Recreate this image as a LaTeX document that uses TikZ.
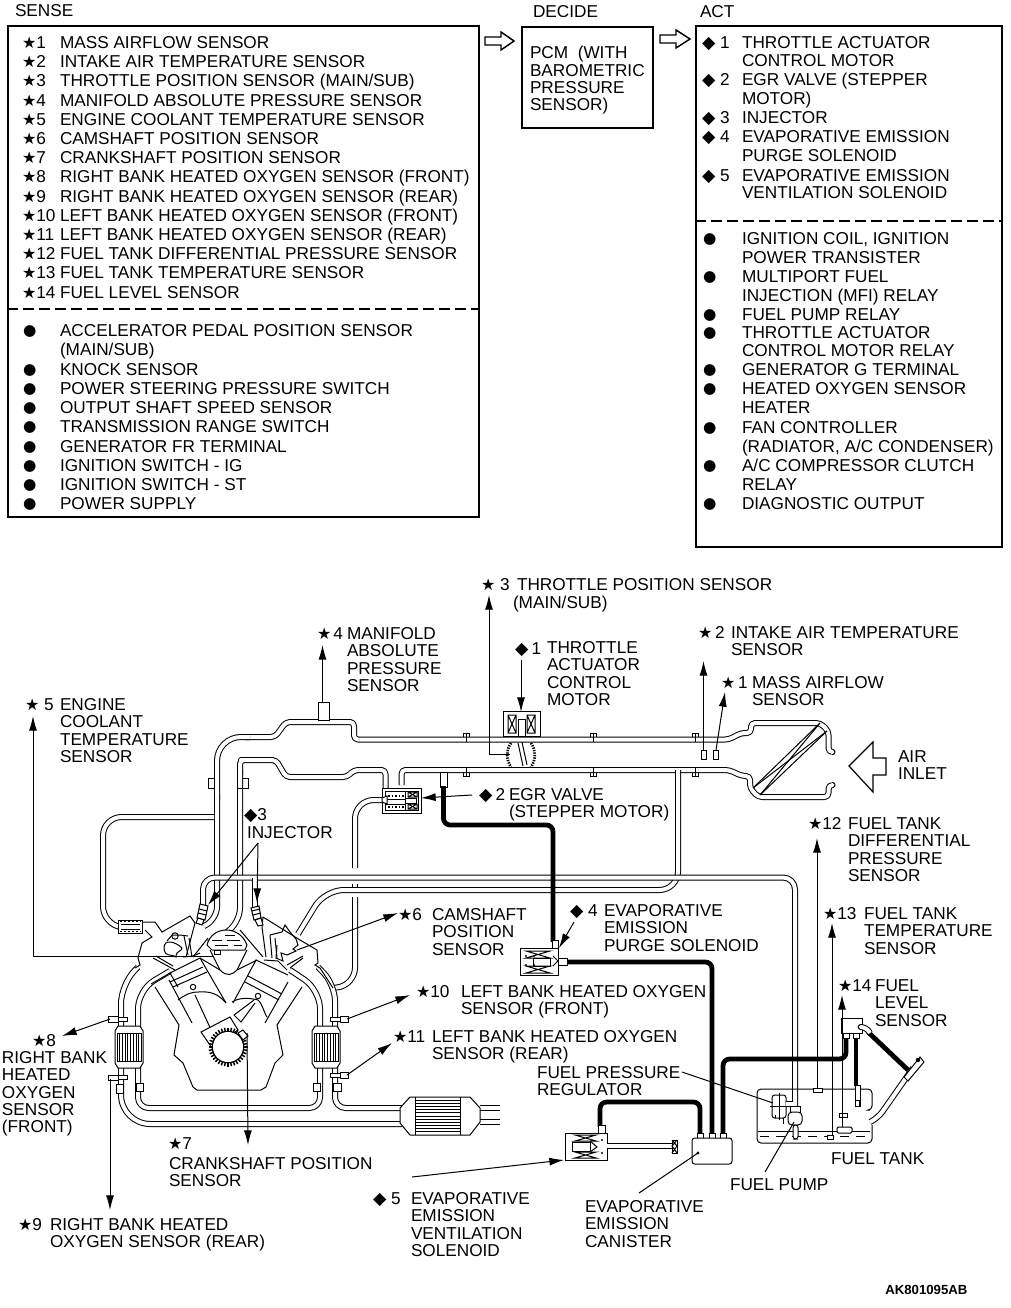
\documentclass[tikz,border=0pt]{standalone}
\usepackage{fontspec}
\setmainfont{Liberation Sans}
\newfontfamily\symf{DejaVu Sans}
\usetikzlibrary{arrows.meta}
\newcommand\St{{\symf\fontsize{12}{12}\selectfont ★}}
\newcommand\Di{{\symf\fontsize{13}{12}\selectfont ◆}}
\newcommand\Bu{\raisebox{.8pt}{\symf\fontsize{11.5}{12}\selectfont ●}}
\newcommand\Tx[4]{\node[lab,anchor=base west] (#1) at (#2,#3+6.2) {#4};}
\newcommand\Ml[4]{\node[lab,anchor=north west,align=left] (#1) at (#2,#3-5.5) {#4};}
\tikzset{
  lab/.style={inner sep=0pt,outer sep=0pt,font=\fontsize{12.9}{13}\selectfont,text=black},
  panel/.style={draw=black,line width=1.1pt},
  pipe/.style={draw=black,line width=.75pt,double=white,double distance=3pt,line join=round},
  hose/.style={draw=black,line width=3.6pt,line cap=butt,rounded corners=5pt},
  thin/.style={draw=black,line width=.75pt},
  part/.style={draw=black,line width=.75pt,fill=white},
  hatchl/.style={draw=black,line width=.5pt},
  lead/.style={draw=black,line width=.75pt},
  arr/.style={draw=black,line width=.75pt,-{Latex[length=11pt,width=6pt]}},
}
\begin{document}
\begin{tikzpicture}[x=.75pt,y=-.75pt]
\useasboundingbox (0,0) rectangle (1010,1308);
\fill[white] (0,0) rectangle (1010,1308);

% ---------- top panels
\Tx{hsense}{15}{10}{SENSE}
\Tx{hdecide}{533}{11}{DECIDE}
\Tx{hact}{700}{11}{ACT}
\node[panel,minimum width=0pt,inner sep=0pt] (bsense) at (243.5,271.5) {\tikz\path (0,0) rectangle (353.25pt,368.25pt);};
\draw[line width=.9pt,dash pattern=on 8pt off 4pt] (bsense.west |- 0,309) -- (bsense.east |- 0,309);
\node[panel,inner sep=0pt] (bdec) at (587.5,77.5) {\tikz\path (0,0) rectangle (98.25pt,75.75pt);};
\node[panel,inner sep=0pt] (bact) at (849,286.5) {\tikz\path (0,0) rectangle (229.5pt,390.75pt);};
\draw[line width=.9pt,dash pattern=on 8pt off 4pt] (bact.west |- 0,221) -- (bact.east |- 0,221);
\draw[line width=1.1pt,line join=miter] (485,37)--(501,37)--(501,32)--(514,41)--(501,50)--(501,45)--(485,45)--cycle;
\draw[line width=1.1pt,line join=miter] (660,35)--(676,35)--(676,30)--(690,39)--(676,48)--(676,43)--(660,43)--cycle;

\Tx{s1}{22}{42}{\St 1}\Tx{t1}{60}{42}{MASS AIRFLOW SENSOR}
\Tx{s2}{22}{61}{\St 2}\Tx{t2}{60}{61}{INTAKE AIR TEMPERATURE SENSOR}
\Tx{s3}{22}{80.5}{\St 3}\Tx{t3}{60}{80.5}{THROTTLE POSITION SENSOR (MAIN/SUB)}
\Tx{s4}{22}{100}{\St 4}\Tx{t4}{60}{100}{MANIFOLD ABSOLUTE PRESSURE SENSOR}
\Tx{s5}{22}{119}{\St 5}\Tx{t5}{60}{119}{ENGINE COOLANT TEMPERATURE SENSOR}
\Tx{s6}{22}{138.5}{\St 6}\Tx{t6}{60}{138.5}{CAMSHAFT POSITION SENSOR}
\Tx{s7}{22}{157.5}{\St 7}\Tx{t7}{60}{157.5}{CRANKSHAFT POSITION SENSOR}
\Tx{s8}{22}{176.5}{\St 8}\Tx{t8}{60}{176.5}{RIGHT BANK HEATED OXYGEN SENSOR (FRONT)}
\Tx{s9}{22}{196}{\St 9}\Tx{t9}{60}{196}{RIGHT BANK HEATED OXYGEN SENSOR (REAR)}
\Tx{s10}{22}{215}{\St 10}\Tx{t10}{60}{215}{LEFT BANK HEATED OXYGEN SENSOR (FRONT)}
\Tx{s11}{22}{234}{\St 11}\Tx{t11}{60}{234}{LEFT BANK HEATED OXYGEN SENSOR (REAR)}
\Tx{s12}{22}{253.5}{\St 12}\Tx{t12}{60}{253.5}{FUEL TANK DIFFERENTIAL PRESSURE SENSOR}
\Tx{s13}{22}{272.5}{\St 13}\Tx{t13}{60}{272.5}{FUEL TANK TEMPERATURE SENSOR}
\Tx{s14}{22}{292}{\St 14}\Tx{t14}{60}{292}{FUEL LEVEL SENSOR}
\Tx{b1}{23}{330}{\Bu}\Tx{u1}{60}{330}{ACCELERATOR PEDAL POSITION SENSOR}
\Tx{u1b}{60}{349}{(MAIN/SUB)}
\Tx{b2}{23}{369}{\Bu}\Tx{u2}{60}{369}{KNOCK SENSOR}
\Tx{b3}{23}{388}{\Bu}\Tx{u3}{60}{388}{POWER STEERING PRESSURE SWITCH}
\Tx{b4}{23}{407}{\Bu}\Tx{u4}{60}{407}{OUTPUT SHAFT SPEED SENSOR}
\Tx{b5}{23}{426}{\Bu}\Tx{u5}{60}{426}{TRANSMISSION RANGE SWITCH}
\Tx{b6}{23}{446}{\Bu}\Tx{u6}{60}{446}{GENERATOR FR TERMINAL}
\Tx{b7}{23}{465}{\Bu}\Tx{u7}{60}{465}{IGNITION SWITCH - IG}
\Tx{b8}{23}{484}{\Bu}\Tx{u8}{60}{484}{IGNITION SWITCH - ST}
\Tx{b9}{23}{503}{\Bu}\Tx{u9}{60}{503}{POWER SUPPLY}

\Ml{pcm}{530}{52}{PCM\ \ (WITH\\BAROMETRIC\\PRESSURE\\SENSOR)}

\Tx{d1}{702}{42}{\Di\ 1}\Tx{v1}{742}{42}{THROTTLE ACTUATOR}
\Tx{v1b}{742}{60}{CONTROL MOTOR}
\Tx{d2}{702}{79}{\Di\ 2}\Tx{v2}{742}{79}{EGR VALVE (STEPPER}
\Tx{v2b}{742}{98}{MOTOR)}
\Tx{d3}{702}{117}{\Di\ 3}\Tx{v3}{742}{117}{INJECTOR}
\Tx{d4}{702}{136}{\Di\ 4}\Tx{v4}{742}{136}{EVAPORATIVE EMISSION}
\Tx{v4b}{742}{155}{PURGE SOLENOID}
\Tx{d5}{702}{175}{\Di\ 5}\Tx{v5}{742}{175}{EVAPORATIVE EMISSION}
\Tx{v5b}{742}{192}{VENTILATION SOLENOID}
\Tx{e1}{703}{238}{\Bu}\Tx{w1}{742}{238}{IGNITION COIL, IGNITION}
\Tx{w1b}{742}{257}{POWER TRANSISTER}
\Tx{e2}{703}{276}{\Bu}\Tx{w2}{742}{276}{MULTIPORT FUEL}
\Tx{w2b}{742}{295}{INJECTION (MFI) RELAY}
\Tx{e3}{703}{314}{\Bu}\Tx{w3}{742}{314}{FUEL PUMP RELAY}
\Tx{e4}{703}{332}{\Bu}\Tx{w4}{742}{332}{THROTTLE ACTUATOR}
\Tx{w4b}{742}{350}{CONTROL MOTOR RELAY}
\Tx{e5}{703}{369}{\Bu}\Tx{w5}{742}{369}{GENERATOR G TERMINAL}
\Tx{e6}{703}{388}{\Bu}\Tx{w6}{742}{388}{HEATED OXYGEN SENSOR}
\Tx{w6b}{742}{407}{HEATER}
\Tx{e7}{703}{427}{\Bu}\Tx{w7}{742}{427}{FAN CONTROLLER}
\Tx{w7b}{742}{446}{(RADIATOR, A/C CONDENSER)}
\Tx{e8}{703}{465}{\Bu}\Tx{w8}{742}{465}{A/C COMPRESSOR CLUTCH}
\Tx{w8b}{742}{484}{RELAY}
\Tx{e9}{703}{503}{\Bu}\Tx{w9}{742}{503}{DIAGNOSTIC OUTPUT}

% ---------- pipes: intake
\draw[pipe,rounded corners=3pt] (359,739.5)--(729,739.5)--(741,733)--(751,733)--(751,723)--(820,723)--(828.5,731)--(828.5,752)--(832,752);
\draw[pipe,rounded corners=3pt] (354,730)--(354,722)--(286,722)--(275,737)--(245,737);
\draw[pipe,rounded corners=3pt] (359,739.5)--(354,739.5)--(354,730);
\draw[pipe,rounded corners=18pt] (250,737)--(217,737)--(217,800);
\draw[pipe,rounded corners=10pt] (217,795)--(217,920)--(204,926);
\draw[pipe,rounded corners=3pt] (401.5,785)--(401.5,770)--(729,770)--(742,776)--(750,776)--(750,788)--(758,797)--(828.5,797)--(828.5,785)--(832,785);
\draw[pipe,rounded corners=3pt] (385.5,790)--(385.5,770)--(354,770)--(347,777)--(286,777)--(276,760)--(245,760)--(240,760)--(240,775);
\draw[pipe,rounded corners=12pt] (240,770)--(240,924)--(209,943);
% cooling loop
\draw[pipe,rounded corners=14pt] (214,817)--(103,817)--(103,925)--(120,927);
% EGR return pipe
\draw[pipe,rounded corners=14pt] (382,800)--(355,800)--(355,868);
\draw[pipe,rounded corners=13pt] (355,897)--(355,985)--(333,988);
\draw[pipe] (355,884)--(355,887);
% vent pipe across
\draw[pipe,rounded corners=14pt] (678,770)--(678,890)--(325,890)--(298,934);
% rail
\draw[pipe,rounded corners=9pt] (203,908)--(203,877.5)--(795,877.5)--(795,1108);
\draw[pipe] (255,878)--(255,908);
% exhaust
\draw[pipe,rounded corners=14pt] (138,967)--(121,985)--(121,1030);
\draw[pipe,rounded corners=22pt] (121,1065)--(121,1124)--(402,1124);
\draw[pipe,rounded corners=14pt] (170,971)--(138,990)--(138,1030);
\draw[pipe,rounded corners=8pt] (138,1065)--(138,1108)--(320,1108)--(320,1065);
\draw[pipe,rounded corners=14pt] (320,1030)--(320,990)--(290,970);
\draw[pipe,rounded corners=12pt] (318,967)--(335,985)--(335,1030);
\draw[pipe,rounded corners=8pt] (335,1065)--(335,1108)--(402,1108);
\draw[pipe] (480,1108)--(500,1108);
\draw[pipe] (480,1122)--(500,1122);
% flanges
\foreach \fx in {466,593,695}{
  \draw[thin] (\fx-3,736.5)--(\fx-3,733)--(\fx+3,733)--(\fx+3,736.5) (\fx,733)--(\fx,742);
  \draw[thin] (\fx-3,772.5)--(\fx-3,776)--(\fx+3,776)--(\fx+3,772.5) (\fx,768)--(\fx,776);
}
\draw[thin] (214,778)--(208.5,778)--(208.5,788)--(214,788);
\draw[thin] (243,778)--(248,778)--(248,788)--(237,788);
\draw[part] (136,1083) rectangle (143,1091);
\draw[part] (313,1083) rectangle (320,1091);
\draw[part] (333,1083) rectangle (341,1091);
\draw[part] (116,1084) rectangle (123,1093);

% hoses
\draw[part] (440,772) rectangle (447,787);
\draw[hose] (443.5,786)--(443.5,825)--(553,825)--(553,942);
\draw[hose] (566,962)--(712,962)--(712,1133);
\draw[hose] (700,1133)--(700,1102)--(600,1102)--(600,1127);
\draw[hose] (723,1133)--(723,1059)--(846,1059)--(846,1038);
\draw[hose,rounded corners=0pt] (856,1038)--(856,1086);
\draw[hose,rounded corners=0pt] (868,1032)--(908,1070);

% air cleaner filter
\draw[thin] (753,788)--(820,723);
\draw[thin] (760,795)--(827,731);
\draw[thin] (753,788)--(827,731);
\draw[thin] (760,795)--(820,723);
\draw[line width=.9pt] (849,766)--(873,742)--(873,758)--(886,758)--(886,775)--(873,775)--(873,792)--cycle;

% throttle
\draw[part] (503,711) rectangle (540,736);
\foreach \ox in {508,527}{
  \draw[thin] (\ox,715) rectangle (\ox+8,733) (\ox,715)--(\ox+8,733) (\ox+8,715)--(\ox,733);
}
\draw[part] (518,719) rectangle (525,736);
\draw[thin] (518,743)--(523,766) (522,742)--(527,765);
\draw[line width=2pt,dash pattern=on 1pt off .9pt] (511,743) .. controls (506,750) and (506,760) .. (511,767);
\draw[line width=2pt,dash pattern=on 1pt off .9pt] (531,743) .. controls (536,750) and (536,760) .. (531,767);
% stubs / sensors in intake
\draw[part] (318,702) rectangle (329,720);
\draw[part] (701,750) rectangle (706,759);
\draw[part] (713,750) rectangle (718,759);

% EGR valve
\draw[part] (382,788) rectangle (421,813);
\draw[thin] (385,791) rectangle (418,810);
\draw[thin] (405,791) -- (405,810);
\draw[thin] (385,799) -- (405,799) (385,804)--(405,804) (405,798) rectangle (416,803);
\draw[thin] (408,792) rectangle (417,797) (408,792)--(417,797) (408,797)--(417,792);
\draw[thin] (408,804) rectangle (417,809) (408,804)--(417,809) (408,809)--(417,804);
\draw[line width=.8pt,dash pattern=on 1.2pt off 1.5pt] (388,796)--(404,796) (388,807)--(404,807);
\draw[part] (382,798)--(387,796)--(387,804)--(382,802)--cycle;

% purge solenoid
\draw[part] (552,940) rectangle (558,948);
\draw[part] (520,948) rectangle (558,975);
\draw[thin] (526,951) -- (550,951)--(526,958)--(550,958)--cycle;
\draw[thin] (526,966) -- (550,966)--(526,973)--(550,973)--cycle;
\draw[thin] (533,958) rectangle (550,966);
\fill (526,956) circle (1.2) (534,956) circle (1.2) (526,965) circle (1.2) (534,965) circle (1.2);
\draw[part] (558,958) rectangle (567,965);
\draw[thin] (553,956)--(558,961)--(553,966);

% vent solenoid
\draw[part] (598,1125) rectangle (605,1134);
\draw[part] (565,1133) rectangle (607,1160);
\draw[thin] (575,1135)--(596,1135)--(575,1141)--(596,1141)--cycle;
\draw[thin] (575,1152)--(596,1152)--(575,1158)--(596,1158)--cycle;
\draw[thin] (572,1142) rectangle (590,1151);
\draw[thin] (590,1141)--(597,1147)--(590,1152);
\fill (602,1140) circle (1.2) (602,1153) circle (1.2);
\draw[pipe] (607,1146)--(672,1146);
\draw[part] (672,1140) rectangle (677,1153);
\draw[thin] (672,1140)--(677,1146)--(672,1153) (677,1140)--(672,1146)--(677,1153);

% canister
\foreach \cx in {700,712,723}{\draw[part] (\cx-3,1133) rectangle (\cx+3,1138);}
\draw[part,rounded corners=2pt] (692,1138) rectangle (732,1164);
\fill (698,1153) circle (1.6);
\coordinate (cani) at (698,1153);

% cats
\foreach \cx/\cw in {115/28,312/28}{
  \draw[part] (\cx+3,1026)--(\cx+\cw-3,1026)--(\cx+\cw,1031)--(\cx+\cw,1063)--(\cx+\cw-3,1068)--(\cx+3,1068)--(\cx,1063)--(\cx,1031)--cycle;
  \draw[thin] (\cx+2,1033) rectangle (\cx+\cw-2,1061);
  \foreach \k in {1,...,8}{\draw[hatchl] (\cx+2+\k*2.7,1033)--(\cx+2+\k*2.7,1061);}
}
% catalytic converter
\draw[part] (400,1108)--(410,1097)--(470,1097)--(480,1108)--(480,1122)--(470,1135)--(410,1135)--(400,1123)--cycle;
\draw[thin] (415,1097) -- (415,1135) (460,1097)--(460,1135);
\foreach \k in {1,...,11}{\draw[hatchl] (415,1097+\k*3.15)--(460,1097+\k*3.15);}

% O2 sensors
\draw[part] (113,1017) rectangle (127,1021);
\draw[part] (108,1016) rectangle (118,1022);
\draw[part] (113,1075) rectangle (127,1079);
\draw[part] (108,1075) rectangle (118,1080);
\draw[part] (330,1017) rectangle (342,1021);
\draw[part] (340,1016) rectangle (348,1022);
\draw[part] (330,1073) rectangle (342,1077);
\draw[part] (340,1072) rectangle (348,1078);

% engine: heads
\draw[thin,fill=white] (142,922)--(155,922)--(162,932)--(190,916)--(195,923)--(186,957);
\draw[thin] (145,930)--(152,937)--(142,943)--(138,958)--(140,965)--(135,968);
\draw[thin] (263,917)--(300,940)--(317,950)--(318,963)--(315,965)--(320,968)--(333,988);
\draw[thin] (263,917)--(262,927)--(266,957);
% coolant connector
\draw[part] (118,920) rectangle (142,933);
\draw[thin] (121,924) -- (140,924) (121,929)--(140,929);
\draw[line width=1pt,dash pattern=on 1.5pt off 1.5pt] (120,921.5)--(141,921.5) (120,931.5)--(141,931.5);
% rocker / cam left
\draw[thin] (164,948) .. controls (164,938) and (176,942) .. (182,948) .. controls (182,952) and (176,950) .. (176,957) .. controls (170,953) and (165,958) .. (164,948);
\draw[thin] (175,936) circle (3.2);
\draw[thin] (167,941)--(172,935)--(180,935)--(188,936);
\draw[thin] (184,936)--(188,955) (189,938)--(192,957);
\draw[thin] (183,957)--(193,956)--(200,953);
\draw[thin] (153,958)--(175,970) (156,956)--(173,966);
% rocker / cam right
\draw[thin] (270,935)--(282,932)--(285,925)--(290,932)--(296,939)--(298,945)--(293,949)--(296,951)--(287,955)--(281,953)--(283,961)--(276,958)--(277,945);
\draw[thin] (270,935)--(272,958) (275,938)--(277,958);
\draw[thin] (287,965)--(303,956) (290,968)--(303,958);
\draw[thin] (264,960)--(278,961)--(287,970);
% plenum
\draw[part] (207,945) .. controls (212,925) and (240,925) .. (247,945) -- (245,950) -- (212,950) -- cycle;
\draw[line width=.6pt] (212,940)--(222,940) (227,940)--(240,940) (215,945)--(228,945) (234,945)--(242,945) (225,935)--(235,935);
\draw[part] (214,950) rectangle (220,954);
\draw[thin] (193,957)--(208,938) (240,930)--(263,957);
% block
\draw[thin] (200,958)--(220,970) .. controls (227,977) and (232,975) .. (237,970) -- (257,960);
\draw[thin] (210,950)--(220,970) (247,950)--(237,970);
\draw[thin] (155,987)--(179,1025)--(174,1055)--(183,1063)--(193,1087)--(197,1090)--(261,1090)--(266,1087)--(275,1063)--(283,1055)--(277,1025)--(302,987);
\draw[thin] (169,980)--(192,1023);
\draw[thin] (288,982)--(265,1023);
% pistons
\draw[thin] (151,984)--(170,973)--(200,958)--(226,1003);
\draw[thin] (170,973)--(178,987);
\draw[thin] (170,982)--(203,967) (173,987)--(207,972);
\draw[thin] (193,987) circle (2.7);
\draw[thin] (178,1000) .. controls (185,995) and (190,992) .. (198,992) .. controls (205,992) and (215,990) .. (226,1003);
\draw[thin] (195,995)--(213,1034);
\draw[thin] (288,975)--(256,960)--(233,1003);
\draw[thin] (248,976)--(282,994) (245,982)--(279,1000);
\draw[thin] (258,996) circle (2.7);
\draw[thin] (232,1002) .. controls (240,997) and (250,998) .. (258,1000) .. controls (262,1003) and (265,1015) .. (267,1017);
\draw[thin] (254,1000)--(234,1015)--(241,1022)--(255,1003);
% crank
\draw[thin,fill=white] (201,1032)--(230,1017)--(238,1030)--(212,1048)--cycle;
\draw[line width=1.2pt] (228,1047) circle (15.5);
\fill[white] (228,1047) circle (15);
\foreach \a in {0,10,...,350}{\draw[line width=1.1pt] (228,1047)++(\a:15.5)--++(\a:4);}
\draw[part] (238,1033)--(243,1030)--(248,1036)--(243,1040)--cycle;

% tank
\draw[thin,rounded corners=3pt] (870,1110)--(872,1110)--(872,1089)--(757,1089)--(757,1143)--(872,1143)--(872,1125);
\draw[thin] (758,1131)--(870,1131);
\draw[thin,dash pattern=on 7pt off 5pt] (760,1136)--(870,1136);
\draw[pipe,rounded corners=6pt] (870,1122)--(878,1118)--(913,1068);
\draw[part] (904,1077)--(920,1057)--(924,1062)--(908,1081)--cycle;
\fill (918,1060) circle (2.2);
% level sensor head
\draw[part] (841,1018) rectangle (862,1033);
\draw[part] (843,1033) rectangle (849,1038);
\draw[part] (853,1033) rectangle (859,1038);
\draw[pipe,rounded corners=4pt] (862,1027)--(866,1027)--(870,1033);
\draw[part] (855,1085) rectangle (860,1106);
\draw[part] (855,1100) rectangle (859,1106);
% regulator
\draw[part,rounded corners=2pt] (772,1095) rectangle (786,1118);
\draw[thin] (779,1093)--(779,1120) (770,1106)--(790,1106);
\draw[thin] (775,1118)--(775,1115) (783,1118)--(783,1124);
\draw[pipe] (786,1104)--(793,1104);
% pump
\draw[part] (790,1106) rectangle (800,1113);
\draw[part,rounded corners=3pt] (788,1112) rectangle (802,1125);
\draw[part,rounded corners=2pt] (793,1125) rectangle (798,1139);
% tank sensors
\draw[part] (813,1088) rectangle (822,1092);
\draw[part] (827,1135) rectangle (833,1139);
\draw[part] (839,1113) rectangle (847,1117);
\draw[part,rounded corners=1pt] (837,1127) rectangle (852,1133);

% injectors
\draw[part] (200,904)--(208,906)--(205,920)--(197,918)--cycle;
\draw[part] (198,918)--(204,920)--(202,925)--(196,923)--cycle;
\draw[thin] (199,909)--(207,911) (198,913)--(206,915);
\draw[part] (251,908)--(259,906)--(261,918)--(254,920)--cycle;
\draw[part] (255,920)--(261,918)--(263,925)--(258,926)--cycle;
\draw[thin] (252,911)--(260,909) (253,915)--(261,913);

% ---------- labels lower diagram
\Tx{n3}{481}{584}{\St\ 3}\Ml{l3}{517}{584}{THROTTLE POSITION SENSOR}
\Tx{l3b}{513}{602}{(MAIN/SUB)}
\Tx{n4}{317}{633}{\St\kern1.5pt 4}\Ml{l4}{347}{633}{MANIFOLD\\ABSOLUTE\\PRESSURE\\SENSOR}
\Tx{n1d}{515}{648}{\Di\kern2.5pt 1}\Ml{l1d}{547}{647}{THROTTLE\\ACTUATOR\\CONTROL\\MOTOR}
\Tx{n2}{698}{632}{\St\kern2pt 2}\Ml{l2}{731}{632}{INTAKE AIR TEMPERATURE\\SENSOR}
\Tx{n1}{721}{682}{\St\kern2pt 1}\Ml{l1}{752}{682}{MASS AIRFLOW\\SENSOR}
\Tx{n5}{25}{704}{\St\ 5}\Ml{l5}{60}{704}{ENGINE\\COOLANT\\TEMPERATURE\\SENSOR}
\Ml{lair}{898}{756}{AIR\\INLET}
\Tx{n2d}{479}{794}{\Di\kern2.5pt 2}\Ml{l2d}{509}{794}{EGR VALVE}
\Tx{l2db}{509}{811}{(STEPPER MOTOR)}
\Tx{n3d}{244}{814}{\Di 3}\Tx{l3d}{247}{832}{INJECTOR}
\Tx{n12}{808}{823}{\St 12}\Ml{l12}{848}{823}{FUEL TANK\\DIFFERENTIAL\\PRESSURE\\SENSOR}
\Tx{n13}{823}{913}{\St 13}\Ml{l13}{864}{913}{FUEL TANK\\TEMPERATURE\\SENSOR}
\Tx{n6}{398}{914}{\St 6}\Ml{l6}{432}{914}{CAMSHAFT\\POSITION\\SENSOR}
\Tx{n4d}{570}{910}{\Di\ 4}\Ml{l4d}{604}{910}{EVAPORATIVE\\EMISSION\\PURGE SOLENOID}
\Tx{n14}{838}{985}{\St 14}\Ml{l14}{875}{985}{FUEL\\LEVEL\\SENSOR}
\Tx{n10}{416}{991}{\St 10}\Ml{l10}{461}{991}{LEFT BANK HEATED OXYGEN}
\Tx{l10b}{461}{1008}{SENSOR (FRONT)}
\Tx{n11}{393}{1036}{\St 11}\Ml{l11}{432}{1036}{LEFT BANK HEATED OXYGEN}
\Tx{l11b}{432}{1053}{SENSOR (REAR)}
\Ml{lfpr}{537}{1072}{FUEL PRESSURE\\REGULATOR}
\Tx{n8}{32}{1040}{\St 8}\Ml{l8}{2}{1057}{RIGHT BANK\\HEATED\\OXYGEN\\SENSOR}
\Tx{l8b}{2}{1126}{(FRONT)}
\Tx{lft}{831}{1158}{FUEL TANK}
\Tx{lfp}{730}{1184}{FUEL PUMP}
\Tx{n7}{168}{1143}{\St 7}\Ml{l7}{169}{1163}{CRANKSHAFT POSITION\\SENSOR}
\Tx{n5d}{373}{1198}{\Di\ 5}\Ml{l5d}{411}{1198}{EVAPORATIVE\\EMISSION\\VENTILATION\\SOLENOID}
\Ml{lcan}{585}{1206}{EVAPORATIVE\\EMISSION\\CANISTER}
\Tx{n9}{18}{1224}{\St 9}\Ml{l9}{50}{1224}{RIGHT BANK HEATED\\OXYGEN SENSOR (REAR)}
\node[inner sep=0pt,anchor=base west,font=\fontsize{9.9}{10}\selectfont\bfseries] (code) at (885,1294) {AK801095AB};

% ---------- leaders
\coordinate (a3s) at (510,754); \coordinate (a3c) at (489,754); \coordinate (a3t) at (489,595);
\draw[arr] (a3s)--(a3c)--(a3t);
\coordinate (a4s) at (322.5,702); \coordinate (a4t) at (322.5,645);
\draw[arr] (a4s)--(a4t);
\coordinate (a1ds) at (521,660); \coordinate (a1dt) at (521,712);
\draw[arr] (a1ds)--(a1dt);
\coordinate (a2s) at (703.5,750); \coordinate (a2t) at (703.5,661);
\draw[arr] (a2s)--(a2t);
\coordinate (a1s) at (716,750); \coordinate (a1t) at (725,692);
\draw[arr] (a1s)--(a1t);
\coordinate (a5s) at (213,956); \coordinate (a5c) at (33,956); \coordinate (a5t) at (33,716);
\draw[arr] (a5s)--(a5c)--(a5t);
\coordinate (a2ds) at (472,795); \coordinate (a2dt) at (421,798);
\draw[arr] (a2ds)--(a2dt);
\coordinate (a3ds) at (258,843); \coordinate (a3da) at (208,905); \coordinate (a3db) at (257,903);
\draw[arr] (a3ds)--(a3da); \draw[arr] (a3ds)--(a3db);
\coordinate (a6s) at (297,950); \coordinate (a6t) at (398,913);
\draw[arr] (a6s)--(a6t);
\coordinate (a4ds) at (574,922); \coordinate (a4dt) at (559,948);
\draw[arr] (a4ds)--(a4dt);
\coordinate (a12s) at (817,1088); \coordinate (a12t) at (817,838);
\draw[arr] (a12s)--(a12t);
\coordinate (a13s) at (832,1135); \coordinate (a13t) at (832,923);
\draw[arr] (a13s)--(a13t);
\coordinate (a14s) at (842,1127); \coordinate (a14t) at (842,995);
\draw[arr] (a14s)--(a14t);
\coordinate (a8s) at (110,1019); \coordinate (a8t) at (62,1036);
\draw[arr] (a8s)--(a8t);
\coordinate (a9s) at (110,1079); \coordinate (a9t) at (110,1210);
\draw[arr] (a9s)--(a9t);
\coordinate (a10s) at (347,1019); \coordinate (a10t) at (410,995);
\draw[arr] (a10s)--(a10t);
\coordinate (a11s) at (347,1075); \coordinate (a11t) at (392,1043);
\draw[arr] (a11s)--(a11t);
\coordinate (a7s) at (247,1033); \coordinate (a7t) at (248,1145);
\draw[arr] (a7s)--(a7t);
\coordinate (a5ds) at (412,1177); \coordinate (a5dt) at (564,1160);
\draw[arr] (a5ds)--(a5dt);
\coordinate (fprs) at (682,1072); \coordinate (fprt) at (773,1103);
\draw[lead] (fprs)--(fprt);
\coordinate (fps) at (765,1172); \coordinate (fpt) at (794,1122);
\draw[lead] (fps)--(fpt);
\coordinate (cans) at (639,1193);
\draw[lead] (cans)--(cani);
\end{tikzpicture}
\end{document}
